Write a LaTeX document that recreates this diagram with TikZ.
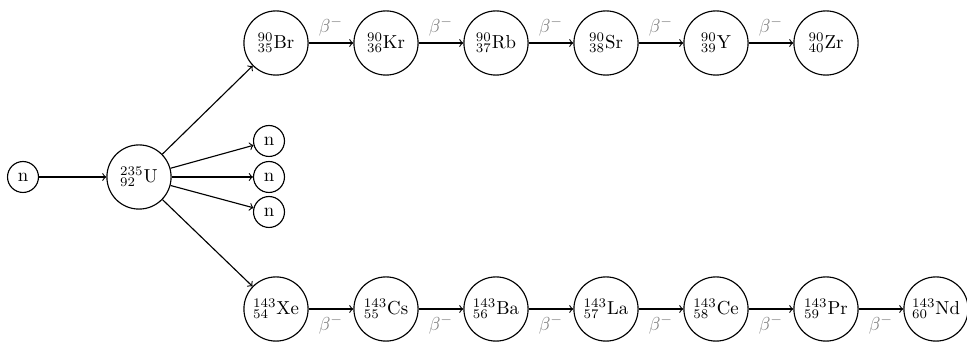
\documentclass[tikz,border=0pt]{standalone}
\begin{document}
\begin{tikzpicture}[x=0.532pt, y=-0.532pt, semithick,
  nucleus/.style={draw, circle, minimum size=1.2cm, inner sep=1pt},
  particle/.style={draw, circle},
  decay/.style={->},
  betalabel/.style={text=gray, font=\normalsize}]
\useasboundingbox (0,0) rectangle (967,345);

% incoming neutron and target nucleus
\node[particle] (nin) at (23,177) {n};
\node[nucleus] (U) at (139,177) {$^{235}_{92}$U};

% prompt neutrons
\node[particle] (n1) at (269,141) {n};
\node[particle] (n2) at (269,177) {n};
\node[particle] (n3) at (269,212) {n};

% light fragment chain (A = 90)
\node[nucleus] (Br) at (276,43) {$^{90}_{35}$Br};
\node[nucleus] (Kr) at (386,43) {$^{90}_{36}$Kr};
\node[nucleus] (Rb) at (496,43) {$^{90}_{37}$Rb};
\node[nucleus] (Sr) at (606,43) {$^{90}_{38}$Sr};
\node[nucleus] (Y)  at (716,43) {$^{90}_{39}$Y};
\node[nucleus] (Zr) at (826,43) {$^{90}_{40}$Zr};

% heavy fragment chain (A = 143)
\node[nucleus] (Xe) at (276,309) {$^{143}_{54}$Xe};
\node[nucleus] (Cs) at (386,309) {$^{143}_{55}$Cs};
\node[nucleus] (Ba) at (496,309) {$^{143}_{56}$Ba};
\node[nucleus] (La) at (606,309) {$^{143}_{57}$La};
\node[nucleus] (Ce) at (716,309) {$^{143}_{58}$Ce};
\node[nucleus] (Pr) at (826,309) {$^{143}_{59}$Pr};
\node[nucleus] (Nd) at (936,309) {$^{143}_{60}$Nd};

% fission
\draw[decay] (nin) -- (U);
\draw[decay] (U) -- (Br);
\draw[decay] (U) -- (Xe);
\draw[decay] (U) -- (n1);
\draw[decay] (U) -- (n2);
\draw[decay] (U) -- (n3);

% beta decays
\foreach \a/\b in {Br/Kr, Kr/Rb, Rb/Sr, Sr/Y, Y/Zr}
  \draw[decay] (\a) -- node[above, betalabel] {$\beta^-$} (\b);
\foreach \a/\b in {Xe/Cs, Cs/Ba, Ba/La, La/Ce, Ce/Pr, Pr/Nd}
  \draw[decay] (\a) -- node[below, betalabel] {$\beta^-$} (\b);
\end{tikzpicture}
\end{document}
